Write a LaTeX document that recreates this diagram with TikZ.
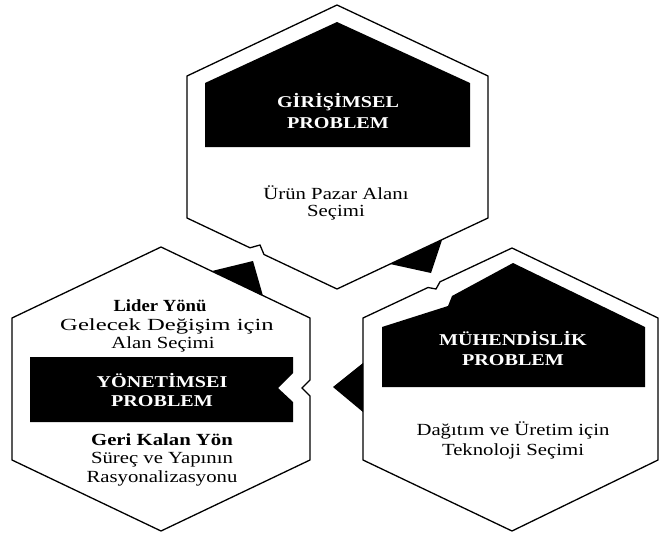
\documentclass[tikz,border=0pt]{standalone}
\usepackage{graphicx}
\usepackage{fontspec}
\setmainfont{Liberation Serif}
\newcommand{\stretchx}[2][1.22]{\scalebox{#1}[1]{#2}}
\begin{document}
\begin{tikzpicture}[x=1pt,y=-1pt,
  hexline/.style={draw=black, line width=1.3pt, line join=miter},
  blk/.style={fill=black, draw=none},
  ttl/.style={text=white, font=\fontsize{16.5}{20}\selectfont\bfseries, anchor=base, inner sep=0pt},
  hd/.style={text=black, font=\fontsize{17}{19}\selectfont\bfseries, anchor=base, inner sep=0pt},
  bd/.style={text=black, font=\fontsize{17}{19}\selectfont, anchor=base, inner sep=0pt}]
\useasboundingbox (0,0) rectangle (659,536);
\fill[white] (0,0) rectangle (659,536);

% hexagon outlines
\draw[hexline] (337,5) -- (488,76) -- (488,218) -- (337,289) -- (264,254.5) -- (260,245) -- (250,247.8) -- (187,218) -- (187,76) -- cycle;
\draw[hexline] (161,247) -- (310,318) -- (310,380) -- (302,388) -- (310,396) -- (310,460) -- (161,531) -- (12,460) -- (12,318) -- cycle;
\draw[hexline] (512,248) -- (658,318) -- (658,460) -- (512,531) -- (363,460) -- (363,318) -- (428,287.5) -- (436,289) -- (440,281.8) -- cycle;

% black header shapes
\fill[blk] (337,22) -- (470,83) -- (470,147) -- (205,147) -- (205,83) -- cycle;
\fill[blk] (513,263) -- (645,327) -- (645,387) -- (382,387) -- (382,327) -- (448,306) -- (452,296) -- cycle;
\fill[blk] (30,357) -- (293,357) -- (293,373) -- (278,388) -- (293,402) -- (293,422) -- (30,422) -- cycle;

% pointer triangles
\fill[blk] (212,271) -- (253,261) -- (263,296) -- cycle;
\fill[blk] (390,264) -- (442,240) -- (431,273) -- cycle;
\fill[blk] (333,387) -- (363,363) -- (363,412) -- cycle;

% top hexagon texts
\node[ttl] (t1a) at (338,107) {\stretchx{GİRİŞİMSEL}};
\node[ttl] (t1b) at (338,128) {\stretchx{PROBLEM}};
\node[bd] (b1a) at (336,199) {\stretchx{Ürün Pazar Alanı}};
\node[bd] (b1b) at (336,216) {\stretchx{Seçimi}};

% left hexagon texts
\node[hd] (l1) at (160,311) {\stretchx[1.1]{Lider Yönü}};
\node[bd] (l2) at (167,330) {\stretchx[1.45]{Gelecek Değişim için}};
\node[bd] (l3) at (163,348) {\stretchx{Alan Seçimi}};
\node[ttl] (l4) at (162,387) {\stretchx{YÖNETİMSEI}};
\node[ttl] (l5) at (162,406) {\stretchx{PROBLEM}};
\node[hd] (l6) at (162,445) {\stretchx{Geri Kalan Yön}};
\node[bd] (l7) at (162,463.5) {\stretchx{Süreç ve Yapının}};
\node[bd] (l8) at (162,482) {\stretchx{Rasyonalizasyonu}};

% right hexagon texts
\node[ttl] (r1) at (513,345) {\stretchx{MÜHENDİSLİK}};
\node[ttl] (r2) at (513,365) {\stretchx{PROBLEM}};
\node[bd] (r3) at (513,435) {\stretchx{Dağıtım ve Üretim için}};
\node[bd] (r4) at (513,455) {\stretchx{Teknoloji Seçimi}};
\end{tikzpicture}
\end{document}
